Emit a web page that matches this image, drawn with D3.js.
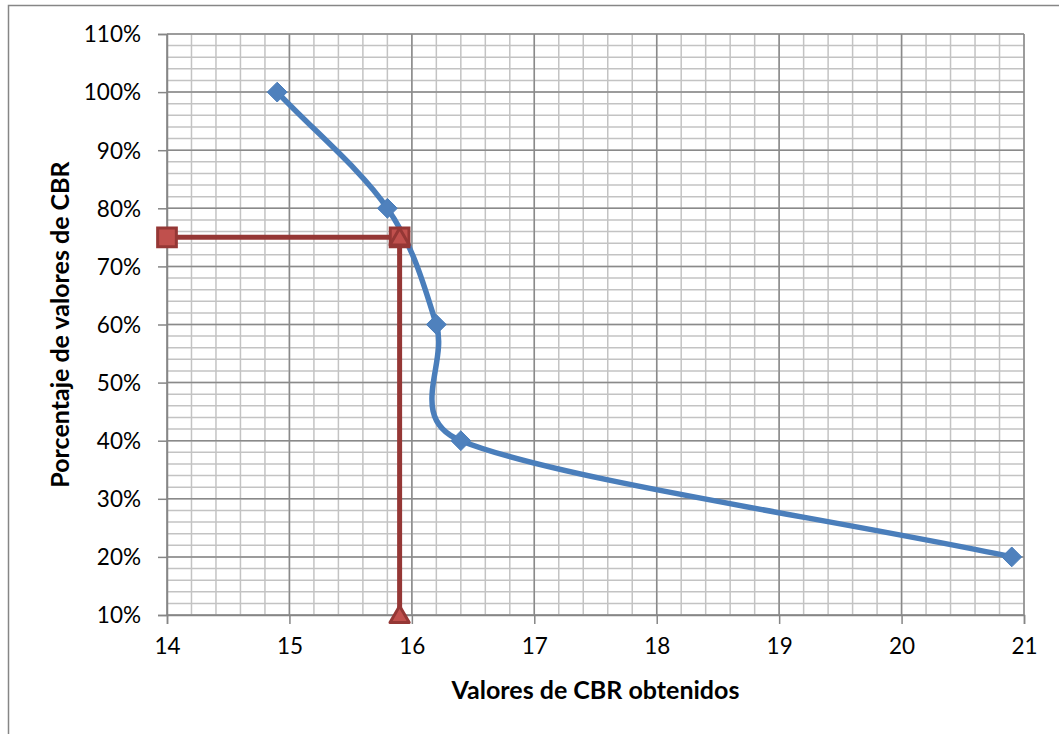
<!DOCTYPE html>
<html>
<head>
<meta charset="utf-8">
<script src="https://cdn.jsdelivr.net/npm/d3@7"></script>
<style>
  html, body { margin: 0; padding: 0; background: #fff; }
  svg { display: block; font-family: Lato, "Open Sans", sans-serif; }
</style>
</head>
<body>
<svg id="chart" width="1059" height="734"></svg>
<script>
// CBR values and the percentage of values at or above each
const cbrValues = [14.9, 15.8, 16.2, 16.4, 20.9];
const percentValues = [1.00, 0.80, 0.60, 0.40, 0.20];

// Design CBR read at the 75th percentile
const refX = [14, 15.9];
const refY = 0.75;
const refBottom = 0.10;

const xTicks = [14, 15, 16, 17, 18, 19, 20, 21];
const yTicks = [0.1, 0.2, 0.3, 0.4, 0.5, 0.6, 0.7, 0.8, 0.9, 1.0, 1.1];

const xTitle = "Valores de CBR obtenidos";
const yTitle = "Porcentaje de valores de CBR";

// Spreadsheet-style smoothing: Bezier segments whose control arms follow
// the neighbour chord (1/6 of it) but never exceed half the segment length.
function SmoothCurve(context) { this._context = context; }
SmoothCurve.prototype = {
  areaStart() { this._line = 0; },
  areaEnd() { this._line = NaN; },
  lineStart() { this._pts = []; },
  point(x, y) { this._pts.push([+x, +y]); },
  lineEnd() {
    const p = this._pts, n = p.length, c = this._context;
    if (!n) return;
    c.moveTo(p[0][0], p[0][1]);
    if (n === 1) return;
    const tangent = i => {
      if (i === 0) return [2 * (p[1][0] - p[0][0]), 2 * (p[1][1] - p[0][1])];
      if (i === n - 1) return [2 * (p[n - 1][0] - p[n - 2][0]), 2 * (p[n - 1][1] - p[n - 2][1])];
      return [p[i + 1][0] - p[i - 1][0], p[i + 1][1] - p[i - 1][1]];
    };
    for (let i = 0; i < n - 1; i++) {
      const a = p[i], b = p[i + 1];
      const seg = Math.hypot(b[0] - a[0], b[1] - a[1]);
      const arm = t => {
        let ax = t[0] / 6, ay = t[1] / 6;
        const len = Math.hypot(ax, ay), lim = seg / 2;
        if (len > lim) { ax *= lim / len; ay *= lim / len; }
        return [ax, ay];
      };
      const t0 = arm(tangent(i)), t1 = arm(tangent(i + 1));
      c.bezierCurveTo(a[0] + t0[0], a[1] + t0[1], b[0] - t1[0], b[1] - t1[1], b[0], b[1]);
    }
  }
};
const curveSmooth = ctx => new SmoothCurve(ctx);

const svg = d3.select("#chart");
const W = 1059, H = 734;
const plot = { left: 167, right: 1024, top: 34, bottom: 615 };

const x = d3.scaleLinear().domain([14, 21]).range([plot.left, plot.right]);
const y = d3.scaleLinear().domain([0.1, 1.1]).range([plot.bottom, plot.top]);

// chart frame
svg.append("path")
  .attr("d", `M${8.5},${H} V${5.5} H${W}`)
  .attr("fill", "none").attr("stroke", "#868686").attr("stroke-width", 1.5);

// minor grid
const g = svg.append("g");
const xMinor = d3.range(14, 21.001, 0.2);
const yMinor = d3.range(0.1, 1.1001, 0.02);
g.selectAll(".vmin").data(xMinor).join("line")
  .attr("x1", d => x(d)).attr("x2", d => x(d))
  .attr("y1", plot.top).attr("y2", plot.bottom)
  .attr("stroke", "#c3c3c3").attr("stroke-width", 1.5);
g.selectAll(".hmin").data(yMinor).join("line")
  .attr("y1", d => y(d)).attr("y2", d => y(d))
  .attr("x1", plot.left).attr("x2", plot.right)
  .attr("stroke", "#c3c3c3").attr("stroke-width", 1.5);

// major grid
g.selectAll(".vmaj").data(xTicks).join("line")
  .attr("x1", d => x(d)).attr("x2", d => x(d))
  .attr("y1", plot.top).attr("y2", plot.bottom)
  .attr("stroke", "#8a8a8a").attr("stroke-width", 1.5);
g.selectAll(".hmaj").data(yTicks).join("line")
  .attr("y1", d => y(d)).attr("y2", d => y(d))
  .attr("x1", plot.left).attr("x2", plot.right)
  .attr("stroke", "#8a8a8a").attr("stroke-width", 1.5);

// axes
const xAxis = d3.axisBottom(x).tickValues(xTicks).tickSize(9).tickPadding(14)
  .tickFormat(d3.format("d"));
const yAxis = d3.axisLeft(y).tickValues(yTicks).tickSize(9).tickPadding(17)
  .tickFormat(d3.format(".0%"));

const gx = svg.append("g").attr("transform", `translate(0,${plot.bottom})`).call(xAxis);
const gy = svg.append("g").attr("transform", `translate(${plot.left},0)`).call(yAxis);
[gx, gy].forEach(a => {
  a.select(".domain").attr("stroke", "#868686").attr("stroke-width", 1.5);
  a.selectAll(".tick line").attr("stroke", "#868686").attr("stroke-width", 1.5);
  a.selectAll("text").attr("fill", "#000").style("font-size", "22.5px")
    .style("font-family", "Lato, 'Open Sans', sans-serif");
});
gy.selectAll("text").attr("dy", "0.35em");

// axis titles
svg.append("text")
  .attr("x", (plot.left + plot.right) / 2).attr("y", 699)
  .attr("text-anchor", "middle")
  .style("font-size", "25px").style("font-weight", "bold")
  .text(xTitle);
svg.append("text")
  .attr("transform", `translate(69,${(plot.top + plot.bottom) / 2}) rotate(-90)`)
  .attr("text-anchor", "middle")
  .style("font-size", "25px").style("font-weight", "bold")
  .text(yTitle);

// reference lines (75th percentile)
const red = "#953735", redFill = "#c0504d";
const line = d3.line().x(d => x(d[0])).y(d => y(d[1]));
svg.append("path")
  .attr("d", line([[refX[0], refY], [refX[1], refY]]))
  .attr("fill", "none").attr("stroke", red).attr("stroke-width", 5);
svg.append("path")
  .attr("d", line([[refX[1], refY], [refX[1], refBottom]]))
  .attr("fill", "none").attr("stroke", red).attr("stroke-width", 5);

// CBR curve
const data = cbrValues.map((v, i) => [v, percentValues[i]]);
const curve = d3.line().x(d => x(d[0])).y(d => y(d[1])).curve(curveSmooth);
svg.append("path")
  .attr("d", curve(data))
  .attr("fill", "none").attr("stroke", "#4a7ebb").attr("stroke-width", 5.5)
  .attr("stroke-linejoin", "round").attr("stroke-linecap", "round");

svg.selectAll(".diamond").data(data).join("path")
  .attr("transform", d => `translate(${x(d[0])},${y(d[1])})`)
  .attr("d", d3.symbol(d3.symbolDiamond2, 250)())
  .attr("fill", "#4f81bd").attr("stroke", "#4a7ebb").attr("stroke-width", 1);

// reference markers
svg.selectAll(".sq").data(refX).join("path")
  .attr("transform", d => `translate(${x(d)},${y(refY)})`)
  .attr("d", d3.symbol(d3.symbolSquare, 350)())
  .attr("fill", redFill).attr("stroke", red).attr("stroke-width", 3);
svg.selectAll(".tri").data([refY, refBottom]).join("path")
  .attr("transform", d => `translate(${x(refX[1])},${y(d) + 2})`)
  .attr("d", d3.symbol(d3.symbolTriangle, 160)())
  .attr("fill", redFill).attr("stroke", red).attr("stroke-width", 3)
  .attr("stroke-linejoin", "round");
</script>
</body>
</html>
